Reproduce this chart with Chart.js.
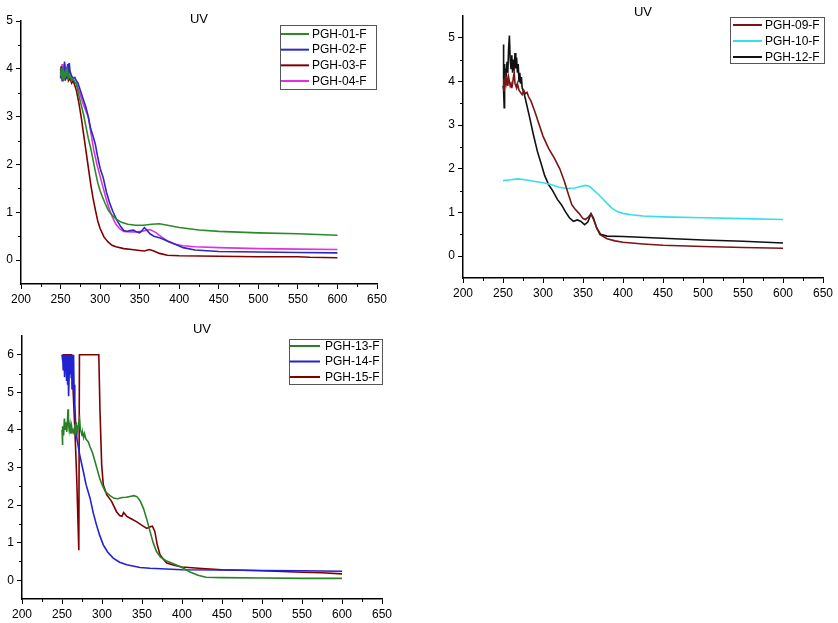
<!DOCTYPE html>
<html><head><meta charset="utf-8">
<script src="https://cdn.jsdelivr.net/npm/chart.js@4.4.1/dist/chart.umd.min.js"></script>
<style>
html,body{margin:0;padding:0;background:#fff;width:838px;height:623px;overflow:hidden}
canvas{position:absolute}
#c1{left:0;top:0;width:420px;height:310px}
#c2{left:420px;top:0;width:418px;height:310px}
#c3{left:0;top:310px;width:420px;height:313px}
</style></head><body>
<canvas id="c1" width="420" height="310"></canvas>
<canvas id="c2" width="418" height="310"></canvas>
<canvas id="c3" width="420" height="313"></canvas>
<script>
// ---------- labels and ticks ----------
const chartTitle = 'UV';
const labels1 = ['PGH-01-F', 'PGH-02-F', 'PGH-03-F', 'PGH-04-F'];
const labels2 = ['PGH-09-F', 'PGH-10-F', 'PGH-12-F'];
const labels3 = ['PGH-13-F', 'PGH-14-F', 'PGH-15-F'];
const xTicks = [200, 250, 300, 350, 400, 450, 500, 550, 600, 650];
const yTicks1 = [0, 1, 2, 3, 4, 5];
const yTicks2 = [0, 1, 2, 3, 4, 5];
const yTicks3 = [0, 1, 2, 3, 4, 5, 6];

// ---------- chart 1 ----------
const pgh01X = [250,251,252,253,254,255,256,257,258,259,260,262,264,266,268,270,273,276,279,282,285,288,291,294,297,300,303,306,310,315,320,327,335,345,355,365,375,385,400,425,450,500,550,600];
const pgh01Y = [3.85,4.0,3.8,4.05,3.75,3.95,3.8,4.0,3.85,3.95,3.8,3.85,3.75,3.8,3.72,3.68,3.45,3.25,3.05,2.8,2.55,2.35,2.1,1.85,1.62,1.45,1.32,1.2,1.05,0.94,0.86,0.79,0.75,0.73,0.73,0.75,0.76,0.73,0.68,0.63,0.60,0.57,0.55,0.52];

const pgh02X = [250,251,252,253,254,255,256,257,258,259,260,261,262,264,266,268,270,272,274,276,279,282,285,288,291,294,297,300,304,308,312,316,321,326,330,334,338,342,346,350,353,356,359,363,368,376,385,395,405,420,450,500,550,600];
const pgh02Y = [3.8,4.05,3.75,4.0,3.8,4.15,3.85,4.0,3.8,4.1,3.9,4.12,3.95,3.85,3.8,3.82,3.75,3.7,3.6,3.5,3.35,3.2,3.0,2.75,2.6,2.42,2.15,1.92,1.72,1.42,1.2,1.02,0.84,0.7,0.62,0.6,0.62,0.63,0.59,0.57,0.62,0.68,0.63,0.55,0.5,0.46,0.4,0.33,0.26,0.21,0.18,0.17,0.16,0.15];

const pgh03X = [250,251,252,253,254,255,256,257,258,259,260,262,264,266,268,270,273,276,279,282,285,288,291,294,297,300,305,310,315,320,330,340,350,356,362,368,375,385,400,450,500,550,565,600];
const pgh03Y = [3.9,4.05,3.8,4.0,3.85,3.95,3.75,3.9,3.8,3.9,3.75,3.8,3.7,3.75,3.65,3.55,3.3,3.0,2.65,2.3,1.95,1.6,1.3,1.05,0.82,0.66,0.48,0.38,0.31,0.28,0.24,0.22,0.2,0.19,0.22,0.19,0.14,0.1,0.09,0.08,0.07,0.07,0.06,0.05];

const pgh04X = [250,251,252,253,254,255,256,257,258,259,260,261,262,264,266,268,270,273,276,279,282,285,288,292,296,300,304,308,312,316,320,325,330,340,347,355,363,370,378,386,395,405,420,450,500,550,600];
const pgh04Y = [4.0,3.8,4.1,3.85,4.05,3.9,4.0,3.8,4.05,3.85,4.0,3.85,3.9,3.8,3.75,3.72,3.7,3.55,3.4,3.25,3.12,3.0,2.7,2.3,2.0,1.75,1.5,1.26,1.05,0.88,0.75,0.65,0.6,0.59,0.59,0.61,0.64,0.58,0.48,0.39,0.33,0.3,0.28,0.26,0.24,0.23,0.22];

// ---------- chart 2 ----------
const pgh09X = [250,251,252,253,254,255,256,257,258,259,260,261,262,263,264,265,266,267,268,270,272,274,276,278,280,282,285,290,294,300,307,314,321,327,332,336,340,345,350,353,357,360,363,367,371,380,390,400,425,450,500,550,600];
const pgh09Y = [3.8,4.05,3.9,4.1,3.95,4.05,3.9,4.1,4.0,3.9,3.95,3.85,3.95,4.1,4.2,3.95,3.9,3.85,3.95,3.8,3.75,3.7,3.8,3.72,3.75,3.65,3.55,3.3,3.08,2.75,2.47,2.25,2.0,1.7,1.4,1.18,1.08,0.98,0.86,0.84,0.9,0.97,0.85,0.65,0.5,0.4,0.35,0.32,0.28,0.25,0.22,0.2,0.18];

const pgh10X = [250,260,268,278,290,300,310,320,330,340,348,353,358,363,370,378,386,393,400,410,425,450,500,550,600];
const pgh10Y = [1.73,1.75,1.77,1.75,1.71,1.68,1.64,1.58,1.55,1.56,1.6,1.62,1.6,1.52,1.4,1.25,1.1,1.02,0.98,0.95,0.92,0.9,0.88,0.86,0.84];

const pgh12X = [250,250.5,251,251.5,252,252.5,253,254,255,256,257,258,259,260,261,262,263,264,265,266,267,268,269,270,271,272,273,274,276,278,283,288,293,298,302,307,312,318,323,328,333,338,343,347,352,356,360,363,367,372,380,400,450,500,550,600];
const pgh12Y = [3.9,4.85,3.8,3.4,4.4,4.0,4.3,4.1,4.45,4.2,4.75,5.05,4.5,4.3,4.6,4.2,4.5,4.25,4.65,4.3,4.55,4.2,4.4,4.0,4.2,3.95,4.1,3.85,3.75,3.6,3.2,2.78,2.4,2.1,1.85,1.64,1.5,1.3,1.18,1.02,0.88,0.8,0.83,0.8,0.72,0.78,0.97,0.88,0.65,0.5,0.46,0.45,0.41,0.37,0.34,0.3];

// ---------- chart 3 ----------
const pgh13X = [250,250.5,251,252,253,254,255,256,257,257.5,258,259,260,261,262,263,264,265,266,267,268,269,270,271,272,273,274,275,276,277,278,280,283,285,288,291,294,297,300,304,310,315,320,325,330,335,340,344,348,352,356,360,364,368,373,380,390,400,410,420,430,450,500,550,600];
const pgh13Y = [4.0,3.6,4.1,3.85,4.3,4.0,4.2,3.95,4.3,4.55,4.2,4.0,4.15,3.9,4.1,3.95,4.0,3.9,4.15,4.0,4.2,3.95,4.1,4.2,4.3,4.0,3.95,3.85,3.9,3.8,3.9,3.75,3.68,3.55,3.4,3.18,2.95,2.72,2.55,2.36,2.25,2.18,2.17,2.2,2.21,2.23,2.25,2.22,2.1,1.9,1.62,1.3,1.0,0.77,0.62,0.52,0.43,0.34,0.22,0.13,0.08,0.07,0.06,0.05,0.05];

const pgh14X = [250,250.5,251,251.5,252,252.5,253,253.5,254,254.5,255,255.5,256,256.5,257,257.5,258,258.5,259,259.5,260,261,261.5,262,262.5,263,263.5,264,264.5,265,266,267,268.4,272,276.6,280,285,289,293,297,301.6,307,314,322,331,340,347.5,360,380,400,450,500,550,600];
const pgh14Y = [6.0,5.85,6.0,5.6,6.0,5.9,6.0,5.4,6.0,5.7,6.0,5.3,5.9,6.0,5.2,5.8,6.0,4.9,5.5,6.0,5.7,6.0,5.4,6.0,5.1,5.8,6.0,5.6,6.0,5.2,4.7,4.2,3.8,3.35,2.9,2.55,2.19,1.8,1.48,1.2,0.94,0.75,0.59,0.48,0.41,0.37,0.34,0.32,0.3,0.28,0.27,0.26,0.25,0.24];

const pgh15X = [250.5,262,264,266.2,268.4,271,271.8,296,297.5,299.6,301.6,306,312,318,322,325,327,331,337,343,350,356,360,363,366,369,372.5,377,381,390,400,425,450,500,525,550,575,600];
const pgh15Y = [6.0,6.0,5.0,3.96,2.72,0.8,6.0,6.0,4.5,3.07,2.54,2.27,2.1,1.83,1.72,1.7,1.8,1.7,1.63,1.56,1.46,1.38,1.42,1.44,1.3,0.95,0.68,0.55,0.46,0.4,0.35,0.31,0.28,0.25,0.23,0.21,0.2,0.17];

// ---------- helpers ----------
Chart.defaults.font.family = '"Liberation Sans", Arial, sans-serif';
Chart.defaults.font.size = 12;
Chart.defaults.color = '#000';

function pts(xs, ys) { return xs.map((x, i) => ({ x: x, y: ys[i] })); }
function ds(label, xs, ys, color) {
  return { label: label, data: pts(xs, ys), borderColor: color, backgroundColor: color,
           borderWidth: 1.6, pointRadius: 0, tension: 0, fill: false };
}

const decor = {
  id: 'decor',
  afterDraw(chart, args, o) {
    const ctx = chart.ctx, ca = chart.chartArea, xs = chart.scales.x, ys = chart.scales.y;
    ctx.save();
    ctx.strokeStyle = '#000'; ctx.lineWidth = 1;
    // minor ticks
    ctx.beginPath();
    for (let v = xs.min + o.xMinor; v < xs.max; v += o.xMinor) {
      if (Math.abs(v % o.xMajor) < 1e-6) continue;
      const p = Math.round(xs.getPixelForValue(v)) + 0.5;
      ctx.moveTo(p, ca.bottom); ctx.lineTo(p, ca.bottom + 3);
    }
    for (let v = Math.ceil(ys.min) - 0.5; v < ys.max; v += 1) {
      if (v <= ys.min + 1e-6) continue;
      const p = Math.round(ys.getPixelForValue(v)) + 0.5;
      ctx.moveTo(ca.left - 3, p); ctx.lineTo(ca.left, p);
    }
    ctx.stroke();
    // title
    ctx.fillStyle = '#000';
    ctx.font = '13px "Liberation Sans", Arial, sans-serif';
    ctx.textAlign = 'center'; ctx.textBaseline = 'middle';
    ctx.fillText(o.title, (ca.left + ca.right) / 2, o.titleY);
    // legend
    const L = o.legend;
    ctx.fillStyle = '#fff';
    ctx.fillRect(L.x, L.y, L.w, L.h);
    ctx.strokeStyle = '#555'; ctx.lineWidth = 1;
    ctx.strokeRect(L.x + 0.5, L.y + 0.5, L.w, L.h);
    ctx.font = '12px "Liberation Sans", Arial, sans-serif';
    ctx.textAlign = 'left';
    chart.data.datasets.forEach((d, i) => {
      const cy = L.y + L.row0 + i * L.rowH;
      ctx.strokeStyle = d.borderColor; ctx.lineWidth = 2;
      ctx.beginPath(); ctx.moveTo(L.x + L.l0, cy); ctx.lineTo(L.x + L.l1, cy); ctx.stroke();
      ctx.fillStyle = '#000';
      ctx.fillText(d.label, L.x + L.tx, cy + 0.5);
    });
    ctx.restore();
  }
};

function makeChart(id, datasets, yMin, yMax, yTicks, pad, yW, xH, titleY, legend) {
  return new Chart(document.getElementById(id), {
    type: 'line',
    data: { datasets: datasets },
    plugins: [decor],
    options: {
      responsive: false, animation: false, events: [],
      layout: { padding: pad },
      plugins: { legend: { display: false }, title: { display: false }, tooltip: { enabled: false },
        decor: { title: chartTitle, titleY: titleY, xMinor: 25, xMajor: 50, legend: legend } },
      scales: {
        x: { type: 'linear', min: 200, max: 650,
             afterBuildTicks: s => { s.ticks = xTicks.map(v => ({ value: v })); },
             ticks: { padding: 3, maxRotation: 0, autoSkip: false, color: '#000' },
             grid: { drawOnChartArea: false, drawTicks: true, tickLength: 5, color: '#000', tickWidth: 1 },
             border: { display: true, color: '#000', width: 1.5 },
             afterFit: s => { s.height = xH; } },
        y: { type: 'linear', min: yMin, max: yMax,
             afterBuildTicks: s => { s.ticks = yTicks.map(v => ({ value: v })); },
             ticks: { padding: 3, autoSkip: false, color: '#000' },
             grid: { drawOnChartArea: false, drawTicks: true, tickLength: 5, color: '#000', tickWidth: 1 },
             border: { display: true, color: '#000', width: 1.5 },
             afterFit: s => { s.width = yW; } }
      }
    }
  });
}

makeChart('c1', [
  ds(labels1[0], pgh01X, pgh01Y, '#2a8a2a'),
  ds(labels1[1], pgh02X, pgh02Y, '#2a2ac0'),
  ds(labels1[2], pgh03X, pgh03Y, '#800000'),
  ds(labels1[3], pgh04X, pgh04Y, '#e030e0')
], -0.5, 5, yTicks1, { left: 0, top: 21, right: 43, bottom: 0 }, 21, 26, 19,
  { x: 280, y: 25, w: 96, h: 64, row0: 9, rowH: 15.67, l0: 1, l1: 29, tx: 32 });

makeChart('c2', [
  ds(labels2[0], pgh09X, pgh09Y, '#7a1515'),
  ds(labels2[1], pgh10X, pgh10Y, '#33e0ea'),
  ds(labels2[2], pgh12X, pgh12Y, '#111111')
], -0.5, 5.5, yTicks2, { left: 0, top: 16, right: 15, bottom: 0 }, 43, 32, 12,
  { x: 310, y: 17, w: 94, h: 46, row0: 8, rowH: 16, l0: 3, l1: 32, tx: 35 });

makeChart('c3', [
  ds(labels3[0], pgh13X, pgh13Y, '#2a7f2a'),
  ds(labels3[1], pgh14X, pgh14Y, '#2222d0'),
  ds(labels3[2], pgh15X, pgh15Y, '#800000')
], -0.5, 6.5, yTicks3, { left: 0, top: 26, right: 38, bottom: 0 }, 22, 24, 19,
  { x: 289, y: 29, w: 93, h: 45, row0: 7, rowH: 15.5, l0: 1, l1: 31, tx: 36 });
</script>
</body></html>
